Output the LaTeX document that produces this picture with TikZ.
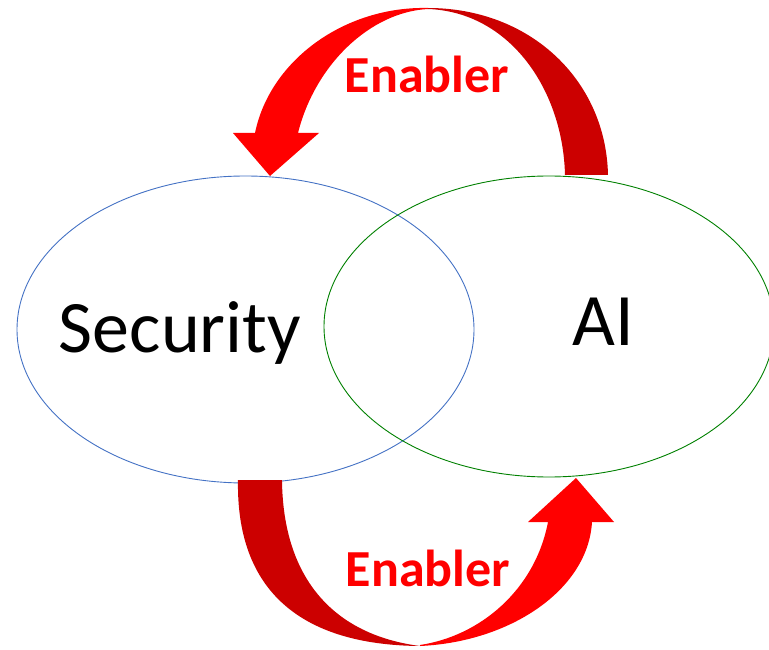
\documentclass[tikz,border=0pt]{standalone}
\usepackage{fontspec}
\setmainfont{Carlito}
\usetikzlibrary{shapes.geometric}

\definecolor{arrowred}{RGB}{255,0,0}
\definecolor{backred}{RGB}{204,0,0}
\definecolor{secblue}{RGB}{68,114,196}
\definecolor{aigreen}{RGB}{0,128,0}

\begin{document}
\begin{tikzpicture}[x=1pt, y=-1pt,
    venn/.style={ellipse, draw, line width=0.9pt, inner sep=0pt},
    bigword/.style={anchor=base, font=\fontsize{74}{80}\selectfont},
    enabler/.style={anchor=base, text=arrowred, font=\fontsize{52}{58}\selectfont\bfseries}]
  \useasboundingbox (0,0) rectangle (769,650);

  % the two sets
  \node[venn, secblue, minimum width=457pt, minimum height=307pt] (sec) at (245.5,329.5) {};
  \node[venn, aigreen, minimum width=450pt, minimum height=301pt] (ai) at (549,326.5) {};

  \node[bigword] (seclabel) at (180,352) {Security};
  \node[bigword] (ailabel) at (603,345) {AI};

  % top arrow: AI -> Security
  \fill[backred] (428,8) .. controls (530,8) and (606,80) .. (608,175) -- (565,175)
    .. controls (563,90) and (510,12) .. (428,9) -- cycle;
  \fill[arrowred] (428,8) .. controls (345,6) and (270,60) .. (255,133) -- (233,133) -- (270,176)
    -- (319,133) -- (298,133) .. controls (315,65) and (370,12) .. (428,9) -- cycle;
  \node[enabler] (topword) at (427,93) {Enabler};

  % bottom arrow: Security -> AI
  \fill[backred] (238,480) .. controls (236,590) and (300,645) .. (420,646)
    .. controls (335,635) and (283,580) .. (282,480) -- cycle;
  \fill[arrowred] (420,646) .. controls (510,642) and (588,590) .. (592,522) -- (614,522) -- (576,478)
    -- (528,522) -- (548,522) .. controls (535,590) and (480,636) .. (420,645) -- cycle;
  \node[enabler] (botword) at (428,586) {Enabler};
\end{tikzpicture}
\end{document}
